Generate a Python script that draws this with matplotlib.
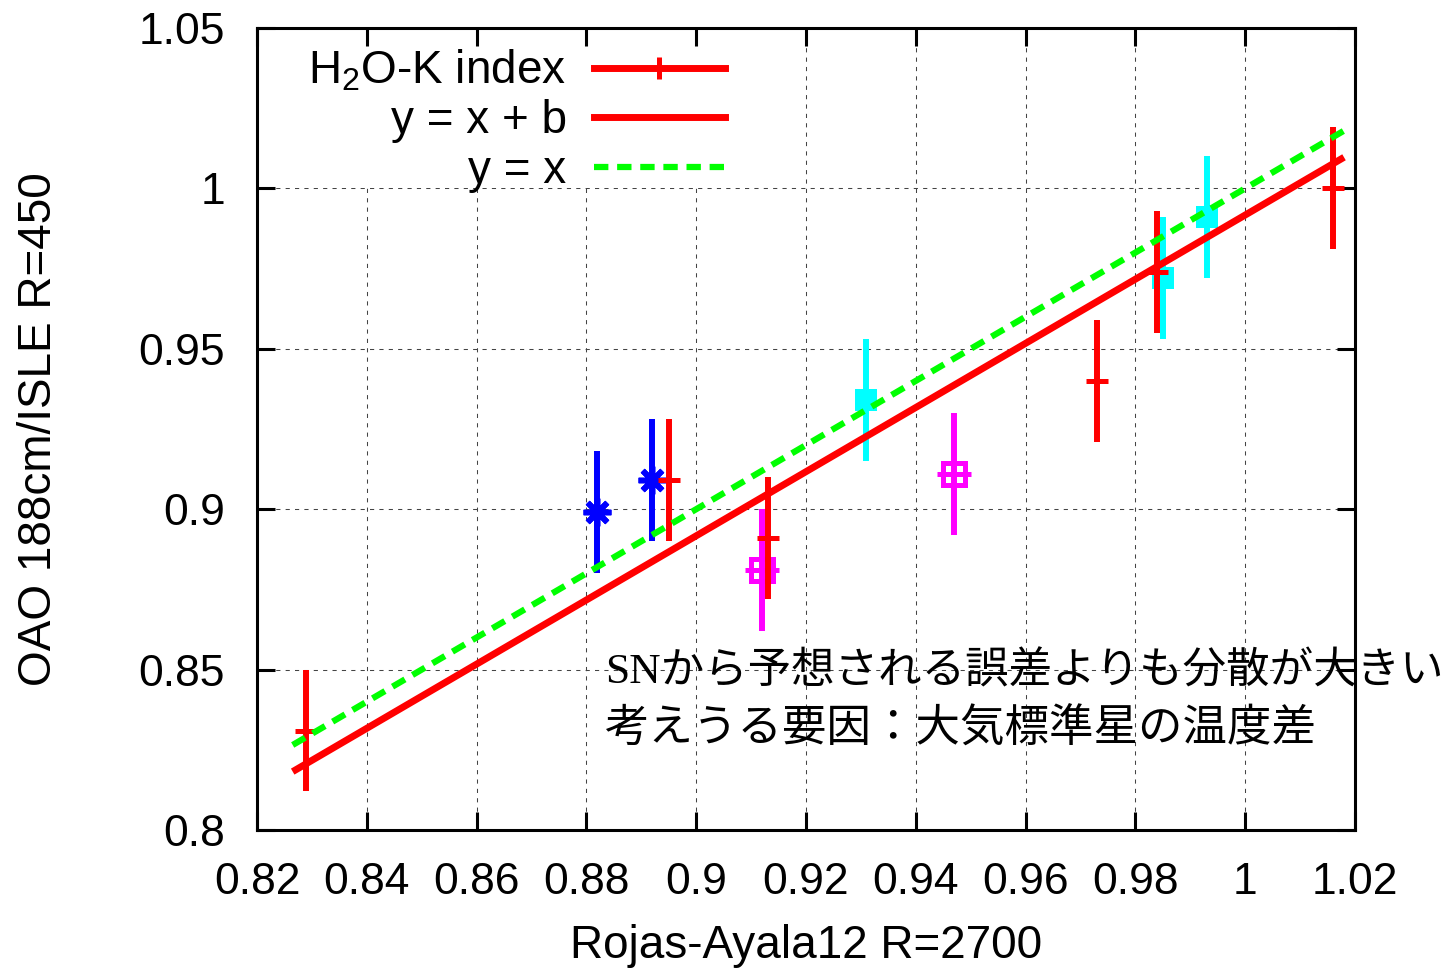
import numpy as np
import matplotlib
matplotlib.use('Agg')
import matplotlib.pyplot as plt
from matplotlib.lines import Line2D
from matplotlib.patches import Rectangle

plt.rcParams['font.family'] = ['Liberation Sans', 'Noto Sans CJK JP', 'DejaVu Sans']
plt.rcParams['mathtext.fontset'] = 'custom'
plt.rcParams['mathtext.rm'] = 'Liberation Sans'
plt.rcParams['mathtext.default'] = 'rm'

# H2O-K index: Rojas-Ayala12 (R=2700) vs OAO 188cm/ISLE (R=450)
x_red = [0.829, 0.895, 0.913, 0.973, 0.984, 1.016]
y_red = [0.831, 0.909, 0.891, 0.940, 0.974, 1.000]
e_red = [0.019, 0.019, 0.019, 0.019, 0.019, 0.019]

x_blue = [0.882, 0.892]
y_blue = [0.899, 0.909]
e_blue = [0.019, 0.019]

x_mag = [0.912, 0.947]
y_mag = [0.881, 0.911]
e_mag = [0.019, 0.019]

x_cyan = [0.931, 0.985, 0.993]
y_cyan = [0.934, 0.972, 0.991]
e_cyan = [0.019, 0.019, 0.019]

b_fit = -0.0083
x_line = [0.8265, 1.018]

xticks = [0.82, 0.84, 0.86, 0.88, 0.90, 0.92, 0.94, 0.96, 0.98, 1.00, 1.02]
xticklabels = ['0.82', '0.84', '0.86', '0.88', '0.9', '0.92', '0.94', '0.96', '0.98', '1', '1.02']
yticks = [0.80, 0.85, 0.90, 0.95, 1.00, 1.05]
yticklabels = ['0.8', '0.85', '0.9', '0.95', '1', '1.05']

note1 = 'SNから予想される誤差よりも分散が大きい'
note2 = '考えうる要因：大気標準星の温度差'

FS = 33
FS_TICK = 32

fig = plt.figure(figsize=(14.52, 9.72), dpi=100)
ax = fig.add_axes([0.1770, 0.1461, 0.7562, 0.8251])
ax.set_xlim(0.82, 1.02)
ax.set_ylim(0.80, 1.05)

# dashed grid, drawn by hand so the legend box can cover it
for xv in xticks[1:-1]:
    ax.axvline(xv, color='#444444', lw=0.75, dashes=(4, 5), zorder=0.5)
for yv in yticks[1:-1]:
    ax.axhline(yv, color='#444444', lw=0.75, dashes=(4, 5), zorder=0.5)
ax.add_patch(Rectangle((0, 0.80), 0.449, 0.20, transform=ax.transAxes,
                       facecolor='white', edgecolor='none', zorder=1))

eb = dict(linestyle='none', elinewidth=4.3, capsize=0)
ax.errorbar(x_blue, y_blue, yerr=e_blue, color='#0000ff', marker=(8, 2, 0),
            ms=20, mew=4, zorder=2, **eb)
ax.errorbar(x_mag, y_mag, yerr=e_mag, color='#ff00ff', marker='s', ms=15.8,
            mew=3.6, mfc='none', zorder=2, **eb)
ax.plot(x_mag, y_mag, linestyle='none', color='#ff00ff', marker='_', ms=24, mew=3.6, zorder=2)
ax.errorbar(x_cyan, y_cyan, yerr=e_cyan, color='#00ffff', marker='s', ms=16,
            mew=0, zorder=2, **eb)
ax.errorbar(x_red, y_red, yerr=e_red, color='#ff0000', marker='_', ms=16.5,
            mew=3.6, zorder=2.1, **eb)

xl = np.array(x_line)
ax.plot(xl, xl + b_fit, color='#ff0000', lw=5, solid_capstyle='butt', zorder=2.3)
ax.plot(xl, xl, color='#00ff00', lw=4.5, dashes=(2.3, 1.4), zorder=2.3)

handles = [
    Line2D([], [], color='#ff0000', lw=5, marker='|', ms=16, mew=3.6),
    Line2D([], [], color='#ff0000', lw=5),
    Line2D([], [], color='#00ff00', lw=4.5, dashes=(2.3, 1.4)),
]
labels = ['H$_2$O-K index', 'y = x + b', 'y = x']
ax.legend(handles, labels, loc='upper right', bbox_to_anchor=(0.426, 0.975),
          frameon=False, markerfirst=False, fontsize=FS, borderpad=0,
          borderaxespad=0, handlelength=2.85, handletextpad=0.6,
          labelspacing=0.12)

ax.set_xticks(xticks)
ax.set_xticklabels(xticklabels)
ax.set_yticks(yticks)
ax.set_yticklabels(yticklabels)
ax.tick_params(direction='in', length=13, width=2.2, labelsize=FS_TICK, pad=23,
               top=True, right=True)
for sp in ax.spines.values():
    sp.set_linewidth(2.2)

ax.set_xlabel('Rojas-Ayala12 R=2700', fontsize=FS, labelpad=15)
ax.set_ylabel('OAO 188cm/ISLE R=450', fontsize=FS, labelpad=56)

kw = dict(ha='left', va='center', zorder=2.2,
          family=['Liberation Serif', 'Noto Sans CJK JP'])
ax.text(0.8834, 0.8490, note1, fontsize=31.3, **kw)
ax.text(0.8834, 0.8313, note2, fontsize=32, **kw)

fig.savefig('out.png', dpi=100)
